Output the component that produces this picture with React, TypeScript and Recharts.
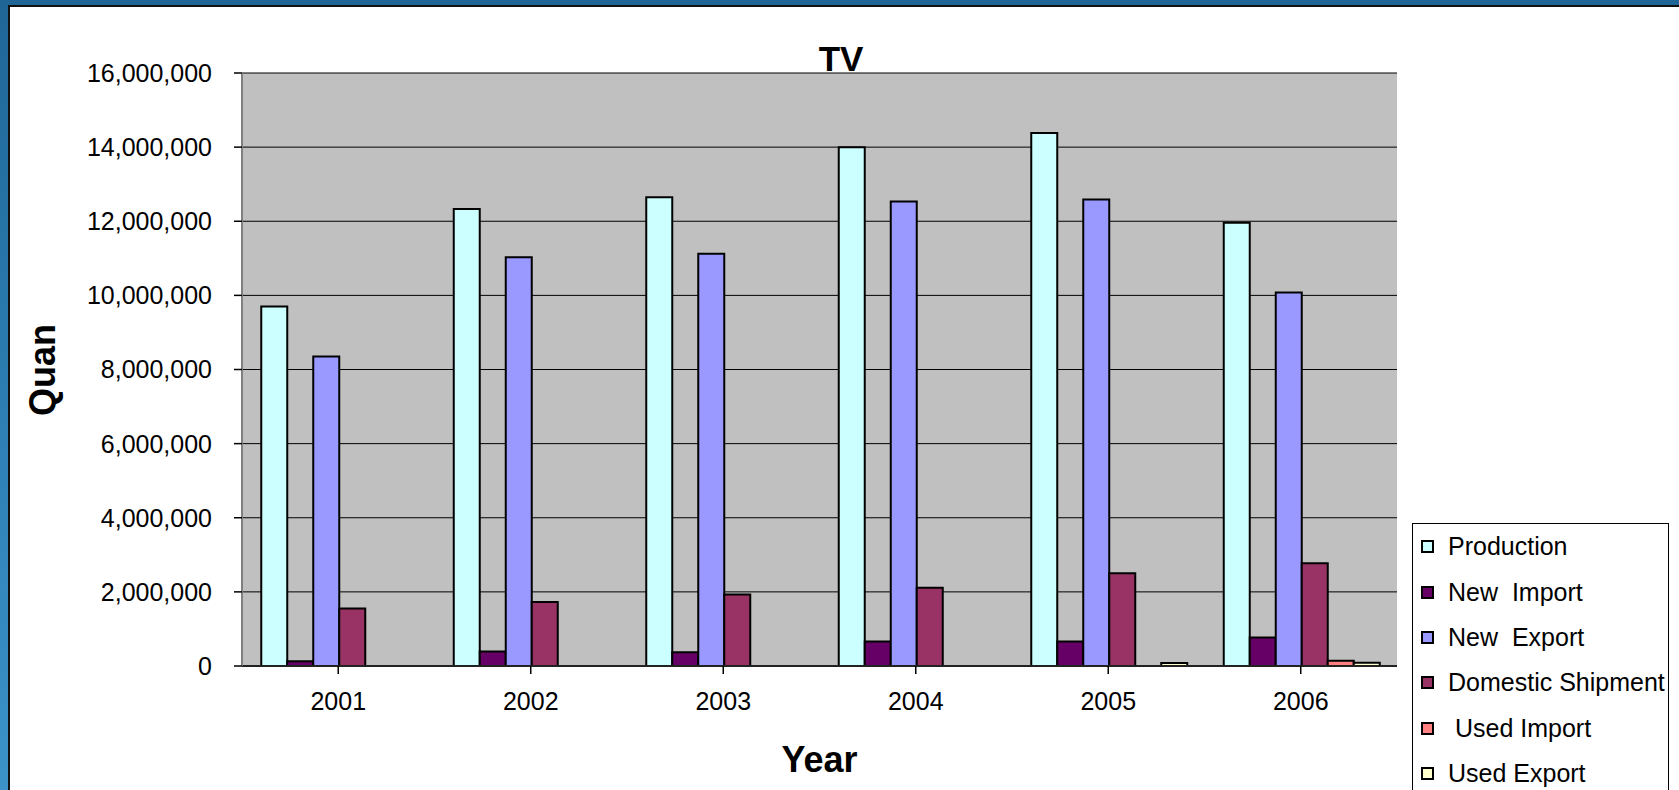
import {
  BarChart,
  Bar,
  XAxis,
  YAxis,
  CartesianGrid,
  Legend,
  Label,
} from "recharts";

const YEARS = ["2001", "2002", "2003", "2004", "2005", "2006"];
const PRODUCTION = [9700000, 12330000, 12650000, 14000000, 14380000, 11960000];
const NEW_IMPORT = [130000, 390000, 370000, 660000, 660000, 770000];
const NEW_EXPORT = [8350000, 11030000, 11120000, 12530000, 12590000, 10080000];
const DOMESTIC_SHIPMENT = [1550000, 1730000, 1930000, 2110000, 2500000, 2770000];
const USED_IMPORT = [0, 0, 0, 0, 0, 140000];
const USED_EXPORT = [0, 0, 0, 0, 80000, 90000];
const Y_TICKS = [0, 2000000, 4000000, 6000000, 8000000, 10000000, 12000000, 14000000, 16000000];

const SERIES = [
  { key: "production", name: "Production", color: "#CCFFFF" },
  { key: "newImport", name: "New  Import", color: "#660066" },
  { key: "newExport", name: "New  Export", color: "#9999FF" },
  { key: "domestic", name: "Domestic Shipment", color: "#993366" },
  { key: "usedImport", name: " Used Import", color: "#FF8080" },
  { key: "usedExport", name: "Used Export", color: "#FFFFCC" },
];

const data = YEARS.map((year, i) => ({
  year,
  production: PRODUCTION[i],
  newImport: NEW_IMPORT[i],
  newExport: NEW_EXPORT[i],
  domestic: DOMESTIC_SHIPMENT[i],
  usedImport: USED_IMPORT[i],
  usedExport: USED_EXPORT[i],
}));

const FONT = "Arial, 'Liberation Sans', sans-serif";

export default function App() {
  return (
    <div
      style={{
        position: "absolute",
        left: 0,
        top: 0,
        width: 1679,
        height: 790,
        overflow: "hidden",
        background: "linear-gradient(180deg, #1f6696 0%, #2f82b8 60%, #3b93c8 100%)",
        fontFamily: FONT,
      }}
    >
      <div
        style={{
          position: "absolute",
          left: 8,
          top: 5,
          width: 1671,
          height: 785,
          borderTop: "2px solid #111",
          borderLeft: "2px solid #111",
          background: "#fff",
        }}
      >
        <BarChart
          width={1669}
          height={783}
          data={data}
          margin={{ top: 66, right: 282, bottom: 64, left: 0 }}
          barCategoryGap="10%"
          barGap={0}
        >
          <CartesianGrid
            fill="#C0C0C0"
            stroke="#000"
            strokeWidth={1}
            vertical={false}
            horizontalValues={Y_TICKS}
          />
          <XAxis
            dataKey="year"
            height={60}
            tick={{ fill: "#000", fontSize: 25, fontFamily: FONT }}
            tickSize={8}
            tickMargin={18}
            tickLine={{ stroke: "#000", strokeWidth: 1.5 }}
            axisLine={{ stroke: "#222", strokeWidth: 2 }}
            interval={0}
          >
            <Label
              content={({ viewBox }: any) => (
                <text
                  x={viewBox.x + viewBox.width / 2}
                  y={752}
                  dy="0.36em"
                  textAnchor="middle"
                  fontSize={36}
                  fontWeight="bold"
                  fontFamily={FONT}
                  fill="#000"
                >
                  Year
                </text>
              )}
            />
          </XAxis>
          <XAxis
            xAxisId="top"
            dataKey="year"
            orientation="top"
            height={0}
            tick={false}
            tickLine={false}
            axisLine={{ stroke: "#808080", strokeWidth: 2.5 }}
          />
          <YAxis
            width={232}
            domain={[0, 16000000]}
            ticks={Y_TICKS}
            interval={0}
            tickFormatter={(v: number) => v.toLocaleString("en-US")}
            tick={{ fill: "#000", fontSize: 25, fontFamily: FONT }}
            tickSize={8}
            tickMargin={22}
            tickLine={{ stroke: "#000", strokeWidth: 1.5 }}
            axisLine={{ stroke: "#808080", strokeWidth: 2 }}
          >
            <Label
              content={() => (
                <g>
                  <text
                    x={0}
                    y={0}
                    transform="translate(32.5,363) rotate(-90)"
                    dy="0.36em"
                    textAnchor="middle"
                    fontSize={36}
                    fontWeight="bold"
                    fontFamily={FONT}
                    fill="#000"
                  >
                    Quan
                  </text>
                  <text
                    x={831}
                    y={64}
                    textAnchor="middle"
                    fontSize={35}
                    fontWeight="bold"
                    fontFamily={FONT}
                    fill="#000"
                  >
                    TV
                  </text>
                </g>
              )}
            />
          </YAxis>
          <YAxis
            yAxisId="right"
            orientation="right"
            width={0}
            domain={[0, 16000000]}
            tick={false}
            tickLine={false}
            axisLine={{ stroke: "#808080", strokeWidth: 2.5 }}
          />
          <Legend
            layout="vertical"
            align="center"
            verticalAlign="middle"
            content={() => <LegendBox />}
            wrapperStyle={{
              position: "absolute",
              left: 1402,
              top: 516,
              width: 257,
              height: 290,
              margin: 0,
              transform: "none",
            }}
          />
          {SERIES.map((s) => (
            <Bar
              key={s.key}
              dataKey={s.key}
              name={s.name}
              fill={s.color}
              stroke="#000"
              strokeWidth={2}
              isAnimationActive={false}
            />
          ))}
        </BarChart>
      </div>
    </div>
  );
}

function LegendBox() {
  return (
    <div
      style={{
        boxSizing: "border-box",
        width: 257,
        height: 290,
        border: "1.5px solid #000",
        background: "#fff",
        fontFamily: FONT,
      }}
    >
      {SERIES.map((s) => (
        <div
          key={s.key}
          style={{
            display: "flex",
            alignItems: "center",
            height: 45.4,
            fontSize: 25,
            color: "#000",
            whiteSpace: "pre",
          }}
        >
          <span
            style={{
              display: "inline-block",
              boxSizing: "border-box",
              width: 13,
              height: 13,
              marginLeft: 8,
              marginRight: 14,
              background: s.color,
              border: "2px solid #000",
            }}
          />
          {s.name}
        </div>
      ))}
    </div>
  );
}
